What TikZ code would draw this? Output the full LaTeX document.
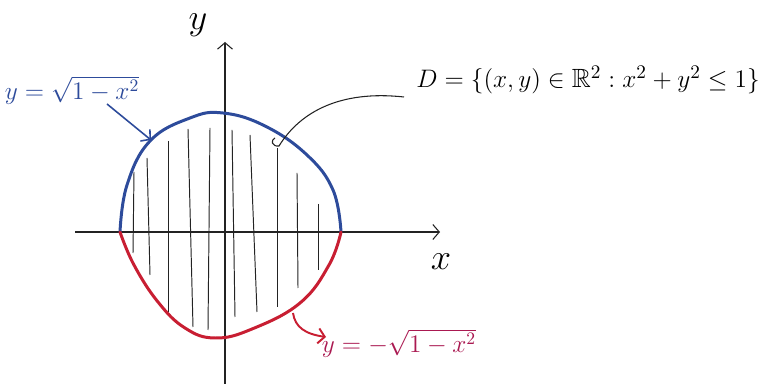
\documentclass[tikz,border=0pt]{standalone}
\usepackage{amsmath,amssymb}
\usetikzlibrary{arrows.meta}
\definecolor{penblue}{RGB}{45,75,155}
\definecolor{penred}{RGB}{200,30,50}
\definecolor{ink}{RGB}{35,35,35}
\begin{document}
\begin{tikzpicture}[x=0.02cm,y=-0.02cm,
  axis/.style={ink,line width=0.6pt},
  hatch/.style={ink,line width=0.55pt},
  barb/.style={-{Straight Barb[length=1.3mm,width=3mm]}},
  curveup/.style={penblue,line width=1.7pt,line cap=round},
  curvedown/.style={penred,line width=1.7pt,line cap=round},
  lbl/.style={inner sep=0pt}]
\useasboundingbox (0,0) rectangle (770,384);
\fill[white] (0,0) rectangle (770,384);
% axes
\coordinate (xs) at (75,232);
\coordinate (xe) at (440,232);
\coordinate (ys) at (225,384);
\coordinate (ye) at (225,42);
\draw[axis,barb] (xs) -- (xe);
\draw[axis,barb] (ys) -- (ye);
\node[lbl,font=\fontsize{20}{24}\selectfont] (ylab) at (198,25) {$y$};
\node[lbl,font=\fontsize{22}{26}\selectfont] (xlab) at (441,262) {$x$};
% hatch lines
\foreach \a/\b/\c/\d in {134/172/133/253, 147/158/150/275, 168/141/168/312,
  188/129/193/327, 210/128/208/330, 232/130/235/317, 250/135/257/312,
  277/148/277/307, 297/173/298/288, 318/204/318/270}
  \draw[hatch] (\a,\b) -- (\c,\d);
% circle
\coordinate (L) at (120,232);
\coordinate (R) at (341,232);
\draw[curveup] plot[smooth,tension=0.7] coordinates {(120,232) (127,185) (150,141) (190,118) (223,113) (265,126) (307,155) (333,190) (341,232)};
\draw[curvedown] plot[smooth,tension=0.7] coordinates {(341,232) (329,265) (300,303) (252,329) (215,338) (185,328) (158,302) (134,265) (120,232)};
% blue label
\node[lbl,penblue,font=\fontsize{14}{17}\selectfont] (bl) at (72,90) {$y=\sqrt{1-x^2}$};
\coordinate (bs) at (107,104);
\coordinate (be) at (151,140);
\draw[penblue,line width=0.9pt,barb] (bs) -- (be);
% red label
\node[lbl,penred!85!blue,font=\fontsize{14}{17}\selectfont] (rl) at (399,343) {$y=-\sqrt{1-x^2}$};
\coordinate (rs) at (293,313);
\coordinate (re) at (326,337);
\draw[penred,line width=1.1pt,barb] (rs) .. controls (295,327) and (305,334) .. (re);
% set label
\node[lbl,font=\fontsize{15}{18}\selectfont] (D) at (588,80) {$D=\{(x,y)\in\mathbb{R}^2 : x^2+y^2\le 1\}$};
\coordinate (ds) at (404,97);
\coordinate (de) at (279,146);
\coordinate (dh) at (275,138);
\draw[ink,line width=0.6pt] (ds) .. controls (340,90) and (300,112) .. (de) .. controls (272,147) and (270,140) .. (dh);
\end{tikzpicture}
\end{document}
